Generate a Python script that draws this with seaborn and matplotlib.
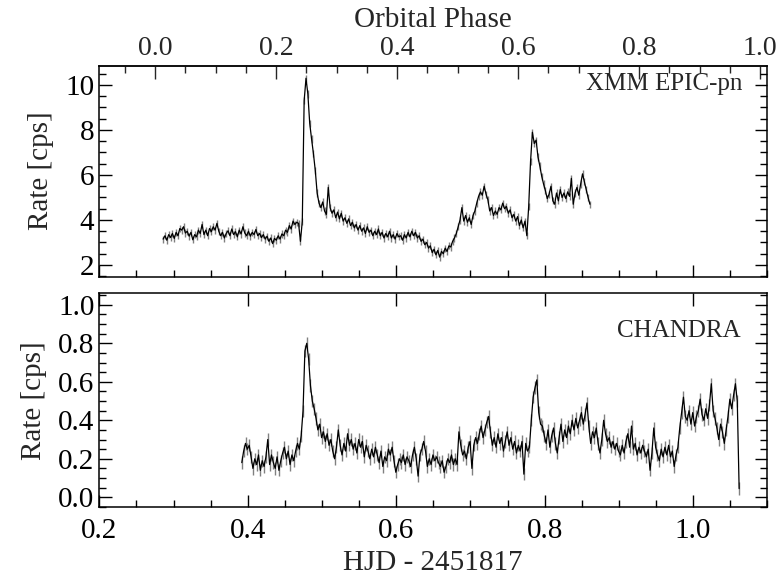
import numpy as np
import pandas as pd
import matplotlib
matplotlib.use("Agg")
import matplotlib.pyplot as plt
import seaborn as sns
from matplotlib.ticker import MultipleLocator, FormatStrFormatter

# XMM EPIC-pn light curve (HJD - 2451817, bins of 0.0025 d)
xmm_start = 0.286
xmm_bin = 0.0025
xmm_rate = [
    3.15, 3.30, 3.10, 3.35, 3.22, 3.40, 3.18, 3.45, 3.30, 3.62,
    3.55, 3.70, 3.42, 3.50, 3.28, 3.45, 3.12, 3.35, 3.25, 3.55,
    3.40, 3.80, 3.35, 3.55, 3.30, 3.62, 3.48, 3.70, 3.55, 3.85,
    3.50, 3.30, 3.45, 3.20, 3.40, 3.52, 3.30, 3.60, 3.35, 3.48,
    3.25, 3.55, 3.38, 3.70, 3.42, 3.30, 3.50, 3.28, 3.45, 3.35,
    3.58, 3.30, 3.40, 3.22, 3.35, 3.15, 3.28, 3.05, 3.20, 2.95,
    3.18, 3.10, 3.30, 3.15, 3.38, 3.30, 3.55, 3.45, 3.75, 3.60,
    3.95, 3.80, 3.90, 3.85, 3.05, 3.95, 9.30, 10.30, 9.60, 8.30,
    7.60, 6.95, 6.20, 5.20, 4.75, 4.55, 4.80, 4.40, 4.25, 5.45,
    4.55, 4.30, 4.45, 4.10, 4.35, 4.05, 4.30, 3.95, 4.10, 3.85,
    4.05, 3.75, 3.90, 3.65, 3.80, 3.55, 3.75, 3.50, 3.65, 3.40,
    3.70, 3.45, 3.55, 3.30, 3.50, 3.35, 3.60, 3.30, 3.45, 3.20,
    3.40, 3.25, 3.50, 3.20, 3.35, 3.15, 3.40, 3.25, 3.30, 3.10,
    3.35, 3.20, 3.45, 3.25, 3.50, 3.30, 3.45, 3.20, 3.30, 3.05,
    3.15, 2.90, 3.00, 2.75, 2.85, 2.55, 2.70, 2.45, 2.65, 2.35,
    2.60, 2.50, 2.75, 2.60, 2.85, 2.80, 3.05, 3.20, 3.40, 3.70,
    4.00, 4.55, 3.95, 4.20, 3.90, 4.10, 3.80, 4.20, 4.40, 4.75,
    5.05, 5.25, 5.10, 5.50, 5.15, 4.90, 4.40, 4.55, 4.20, 4.40,
    4.25, 4.55, 4.45, 4.75, 4.50, 4.60, 4.30, 4.45, 4.10, 4.25,
    3.95, 4.15, 3.75, 4.00, 3.65, 3.95, 3.30, 4.60, 6.60, 7.90,
    7.40, 7.55, 6.80, 6.40, 5.95, 5.60, 5.30, 4.95, 5.15, 5.50,
    4.85, 4.70, 5.20, 4.85, 5.35, 5.00, 5.20, 4.95, 5.25, 5.05,
    5.85, 4.70, 5.20, 5.45, 5.10, 5.60, 6.05, 5.70, 5.35, 5.00,
    4.70,
]
xmm_err = 0.16

# CHANDRA light curve
chandra_start = 0.392
chandra_bin = 0.0025
chandra_rate = [
    0.18, 0.24, 0.28, 0.25, 0.27, 0.21, 0.15, 0.20, 0.17, 0.22,
    0.14, 0.19, 0.16, 0.21, 0.30, 0.17, 0.22, 0.18, 0.15, 0.21,
    0.14, 0.19, 0.23, 0.26, 0.20, 0.24, 0.17, 0.22, 0.19, 0.24,
    0.28, 0.25, 0.32, 0.45, 0.76, 0.80, 0.72, 0.58, 0.50, 0.46,
    0.41, 0.35, 0.38, 0.31, 0.34, 0.29, 0.33, 0.27, 0.30, 0.24,
    0.20, 0.26, 0.35, 0.27, 0.22, 0.28, 0.24, 0.33, 0.27, 0.30,
    0.25, 0.28, 0.23, 0.30, 0.26, 0.29, 0.21, 0.27, 0.24, 0.20,
    0.25, 0.21, 0.26, 0.22, 0.18, 0.24, 0.16, 0.21, 0.19, 0.25,
    0.22, 0.26, 0.19, 0.13, 0.17, 0.20, 0.18, 0.22, 0.17, 0.21,
    0.19, 0.16, 0.22, 0.26, 0.20, 0.11, 0.22, 0.25, 0.29, 0.24,
    0.16, 0.20, 0.17, 0.22, 0.19, 0.21, 0.18, 0.16, 0.19, 0.13,
    0.16, 0.20, 0.18, 0.22, 0.17, 0.20, 0.17, 0.34, 0.27, 0.22,
    0.24, 0.20, 0.26, 0.29, 0.15, 0.27, 0.31, 0.28, 0.33, 0.37,
    0.31, 0.35, 0.39, 0.42, 0.34, 0.27, 0.31, 0.26, 0.33, 0.28,
    0.31, 0.24, 0.29, 0.34, 0.27, 0.31, 0.25, 0.29, 0.23, 0.27,
    0.24, 0.29, 0.12, 0.28, 0.24, 0.26, 0.40, 0.52, 0.57, 0.61,
    0.44, 0.38, 0.37, 0.32, 0.28, 0.35, 0.26, 0.32, 0.36, 0.28,
    0.23, 0.31, 0.38, 0.29, 0.35, 0.31, 0.37, 0.33, 0.40, 0.35,
    0.41, 0.36, 0.40, 0.44, 0.38, 0.43, 0.49, 0.37, 0.28, 0.34,
    0.31, 0.36, 0.28, 0.23, 0.30, 0.40, 0.33, 0.29, 0.31, 0.26,
    0.29, 0.25, 0.28, 0.24, 0.22, 0.27, 0.23, 0.29, 0.33, 0.26,
    0.37, 0.25, 0.28, 0.22, 0.26, 0.23, 0.27, 0.24, 0.21, 0.25,
    0.14, 0.23, 0.36, 0.26, 0.22, 0.19, 0.25, 0.21, 0.26, 0.22,
    0.27, 0.21, 0.24, 0.16, 0.22, 0.26, 0.36, 0.44, 0.52, 0.42,
    0.40, 0.45, 0.38, 0.44, 0.37, 0.42, 0.45, 0.51, 0.43, 0.40,
    0.46, 0.41, 0.48, 0.59, 0.45, 0.41, 0.36, 0.30, 0.38, 0.34,
    0.28, 0.35, 0.42, 0.51, 0.46, 0.53, 0.59, 0.50, 0.045,
]
chandra_err = 0.032

# orbital ephemeris used for the top axis
t0 = 0.2754
period = 0.815

xmm = pd.DataFrame({"hjd": xmm_start + xmm_bin * np.arange(len(xmm_rate)),
                    "rate": xmm_rate})
chandra = pd.DataFrame({"hjd": chandra_start + chandra_bin * np.arange(len(chandra_rate)),
                        "rate": chandra_rate})

sns.set_style("ticks")
plt.rcParams["font.family"] = ["Liberation Serif", "DejaVu Serif"]

fig = plt.figure(figsize=(7.78, 5.81), dpi=100)
ax1 = fig.add_axes([0.1276, 0.5238, 0.8587, 0.3632])
ax2 = fig.add_axes([0.1276, 0.1269, 0.8587, 0.3683])

for ax, df, err in [(ax1, xmm, xmm_err), (ax2, chandra, chandra_err)]:
    ax.errorbar(df["hjd"], df["rate"], yerr=err, fmt="none",
                ecolor="0.5", elinewidth=1.0, capsize=0)
    sns.lineplot(data=df, x="hjd", y="rate", ax=ax, estimator=None,
                 sort=False, color="black", lw=0.9)
    ax.set_xlim(0.2, 1.1)
    ax.xaxis.set_major_locator(MultipleLocator(0.2))
    ax.xaxis.set_minor_locator(MultipleLocator(0.05))
    ax.set_ylabel("Rate [cps]", fontsize=21, labelpad=8)
    for s in ax.spines.values():
        s.set_linewidth(1.1)
        s.set_color("black")
    ax.tick_params(which="both", direction="in", right=True, width=1.0,
                   labelsize=21, colors="black")
    ax.tick_params(which="major", length=9)
    ax.tick_params(which="minor", length=5)

# top panel
ax1.set_ylim(1.48, 10.86)
ax1.yaxis.set_major_locator(MultipleLocator(2))
ax1.yaxis.set_minor_locator(MultipleLocator(0.5))
ax1.yaxis.set_major_formatter(FormatStrFormatter("%d"))
ax1.tick_params(labelbottom=False, top=False)
ax1.set_xlabel("")
ax1.text(0.962, 0.965, "XMM EPIC-pn", transform=ax1.transAxes,
         ha="right", va="top", fontsize=18)

sec = ax1.secondary_xaxis("top", functions=(lambda t: (t - t0) / period,
                                            lambda p: p * period + t0))
sec.xaxis.set_major_locator(MultipleLocator(0.2))
sec.xaxis.set_minor_locator(MultipleLocator(0.05))
sec.xaxis.set_major_formatter(FormatStrFormatter("%.1f"))
sec.tick_params(which="both", direction="in", width=1.0, labelsize=20, pad=3)
sec.tick_params(which="major", length=9)
sec.tick_params(which="minor", length=5)
sec.spines["top"].set_linewidth(1.1)
sec.set_xlabel("Orbital Phase", fontsize=21, labelpad=7)

# bottom panel
ax2.set_ylim(-0.052, 1.06)
ax2.yaxis.set_major_locator(MultipleLocator(0.2))
ax2.yaxis.set_minor_locator(MultipleLocator(0.05))
ax2.yaxis.set_major_formatter(FormatStrFormatter("%.1f"))
ax2.xaxis.set_major_formatter(FormatStrFormatter("%.1f"))
ax2.tick_params(top=True, labeltop=False)
ax2.tick_params(axis="x", pad=8)
ax2.set_xlabel("HJD - 2451817", fontsize=21, labelpad=4)
ax2.text(0.96, 0.875, "CHANDRA", transform=ax2.transAxes,
         ha="right", va="top", fontsize=18)

fig.savefig("out.png", dpi=100)
